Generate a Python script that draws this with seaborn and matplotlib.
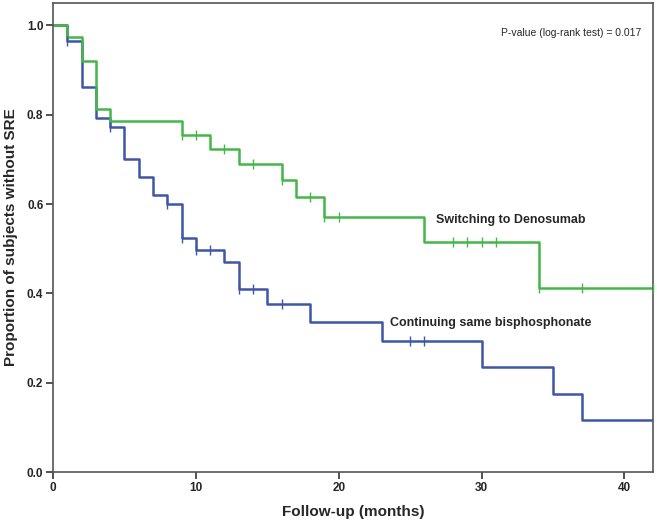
import numpy as np
import matplotlib
matplotlib.use("Agg")
import matplotlib.pyplot as plt
import pandas as pd
import seaborn as sns

# Kaplan-Meier steps
deno_time = [0, 1, 2, 3, 4, 9, 11, 13, 16, 17, 19, 26, 34, 42]
deno_surv = [1.0, 0.974, 0.921, 0.813, 0.786, 0.755, 0.723, 0.689, 0.653, 0.615, 0.572, 0.516, 0.411, 0.411]
deno_censor = [9, 10, 12, 14, 16, 18, 19, 20, 28, 29, 30, 31, 34, 37, 42]

bisp_time = [0, 1, 2, 3, 4, 5, 6, 7, 8, 9, 10, 12, 13, 15, 18, 23, 30, 35, 37, 42]
bisp_surv = [1.0, 0.965, 0.861, 0.792, 0.773, 0.700, 0.661, 0.621, 0.601, 0.524, 0.498, 0.470,
             0.409, 0.377, 0.336, 0.294, 0.234, 0.175, 0.116, 0.116]
bisp_censor = [1, 4, 8, 9, 10, 11, 13, 14, 16, 25, 26]

x_ticks = [0, 10, 20, 30, 40]
y_ticks = [0.0, 0.2, 0.4, 0.6, 0.8, 1.0]

GREEN = "#45b649"
BLUE = "#3f56a6"


def step_value(times, surv, t):
    idx = np.searchsorted(times, t, side="right") - 1
    return surv[idx]


sns.set_style("white")
plt.rcParams["font.family"] = ["Liberation Sans", "DejaVu Sans"]

fig = plt.figure(figsize=(6.57, 5.24), dpi=100)
ax = fig.add_axes([0.0807, 0.0992, 0.9132, 0.8951])

# blue first so the green line sits on top where they overlap
curves = [
    (bisp_time, bisp_surv, bisp_censor, BLUE),
    (deno_time, deno_surv, deno_censor, GREEN),
]
for times, surv, cens, col in curves:
    df = pd.DataFrame({"t": times, "s": surv})
    sns.lineplot(data=df, x="t", y="s", drawstyle="steps-post", color=col,
                 linewidth=1.8, ax=ax, estimator=None, errorbar=None)
    cdf = pd.DataFrame({"t": cens, "s": [step_value(times, surv, c) for c in cens]})
    sns.scatterplot(data=cdf, x="t", y="s", marker="|", s=45, color=col,
                    linewidth=1.0, ax=ax, zorder=3)
    ax.collections[-1].set_clip_on(False)

ax.set_xlim(0, 42)
ax.set_ylim(0, 1.05)
ax.set_xticks(x_ticks)
ax.set_yticks(y_ticks)
ax.set_yticklabels([f"{v:.1f}" for v in y_ticks])
ax.tick_params(axis="both", direction="out", length=5, width=1.2, color="#333333",
               labelsize=8.5, bottom=True, left=True, pad=2)
for lab in ax.get_xticklabels() + ax.get_yticklabels():
    lab.set_fontweight("bold")
for sp in ax.spines.values():
    sp.set_color("#555555")
    sp.set_linewidth(1.2)

ax.set_xlabel("Follow-up (months)", fontsize=11, fontweight="bold", labelpad=8)
ax.set_ylabel("Proportion of subjects without SRE", fontsize=11, fontweight="bold", labelpad=6)

ax.text(26.8, 0.565, "Switching to Denosumab", fontsize=9, fontweight="bold",
        ha="left", va="center")
ax.text(23.6, 0.333, "Continuing same bisphosphonate", fontsize=9, fontweight="bold",
        ha="left", va="center")
ax.text(41.2, 0.983, "P-value (log-rank test) = 0.017", fontsize=7.5,
        ha="right", va="center")

fig.savefig("out.png", dpi=100)
